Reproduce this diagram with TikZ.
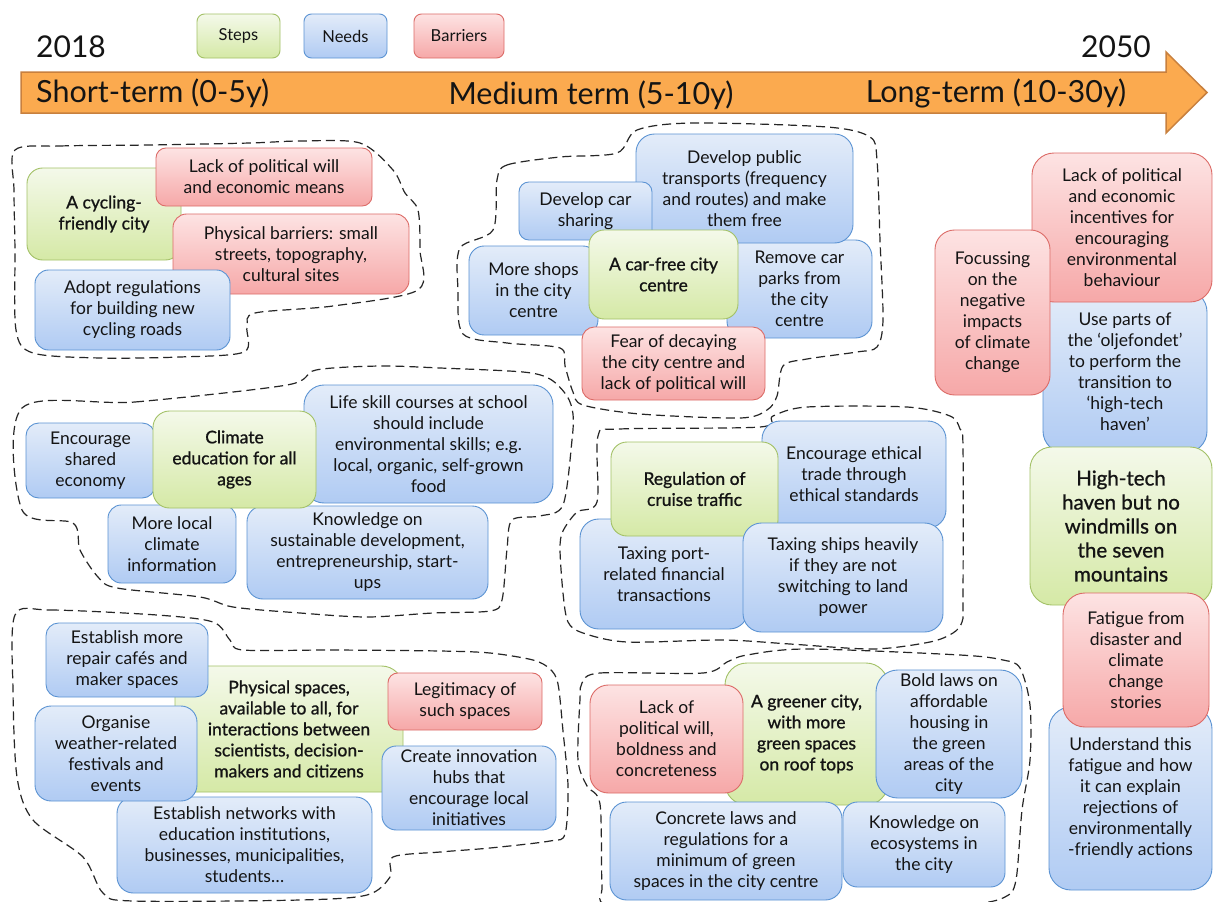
\documentclass[tikz,border=0pt]{standalone}
\usepackage{fontspec}
\setmainfont{Lato}
\newfontfamily\medfont{Lato}[FakeBold=1]
\definecolor{txt}{HTML}{141414}
\definecolor{gtop}{HTML}{F4F9EA}
\definecolor{gbot}{HTML}{D5E9A6}
\definecolor{gbord}{HTML}{A3C167}
\definecolor{btop}{HTML}{E3ECF9}
\definecolor{bbot}{HTML}{B0CBF3}
\definecolor{bbord}{HTML}{5B93D3}
\definecolor{rtop}{HTML}{FDE3E3}
\definecolor{rbot}{HTML}{F6A8A8}
\definecolor{rbord}{HTML}{DC6B67}
\definecolor{arrfill}{HTML}{FBAA4F}
\definecolor{arrbord}{HTML}{C8803E}
\tikzset{
  box/.style={draw, line width=0.9pt, align=center, inner sep=2pt, text=txt,
    font=\fontsize{17.5}{21}\selectfont},
  stepbox/.style={box, draw=gbord, top color=gtop, bottom color=gbot,
    font=\medfont\fontsize{17.5}{21}\selectfont},
  needbox/.style={box, draw=bbord, top color=btop, bottom color=bbot},
  barbox/.style={box, draw=rbord, top color=rtop, bottom color=rbot},
  grp/.style={draw=black!85, dash pattern=on 9pt off 5pt, line width=1.2pt},
  bigtxt/.style={text=txt, inner sep=0pt, font=\fontsize{30}{36}\selectfont},
  arrtxt/.style={text=txt, inner sep=0pt, font=\fontsize{30.5}{36}\selectfont},
}
\newcommand\bx[7]{%
  \pgfmathsetmacro\bw{#5-#3}%
  \pgfmathsetmacro\bh{#6-#4}%
  \pgfmathsetmacro\br{min(0.17*min(\bw,\bh),22)}%
  \node[#1, minimum width=\bw pt, minimum height=\bh pt, rounded corners=\br pt]
    (#2) at ({(#3+#5)/2},{(#4+#6)/2}) {#7};}
\begin{document}
\begin{tikzpicture}[x=1pt,y=-1pt]
\useasboundingbox (0,0) rectangle (1213,902);
\fill[white] (0,0) rectangle (1213,902);

% ---- header ----
\node[bigtxt, anchor=base west] (y2018) at (36,57) {2018};
\node[bigtxt, anchor=base east] (y2050) at (1151,57) {2050};
\bx{stepbox, font=\fontsize{16.5}{20}\selectfont}{lgs}{197}{14}{280}{58}{Steps}
\bx{needbox, font=\fontsize{16.5}{20}\selectfont}{lgn}{304}{14}{387}{58}{Needs}
\bx{barbox, font=\fontsize{16.5}{20}\selectfont}{lgb}{414}{14}{504}{58}{Barriers}
\draw[fill=arrfill, draw=arrbord, line width=1.5pt, line join=miter]
  (21,72) -- (1166,72) -- (1166,52) -- (1207,92.5) -- (1166,133) -- (1166,113) -- (21,113) -- cycle;
\node[arrtxt, anchor=west] (st) at (36,93) {Short-term (0-5y)};
\node[arrtxt] (mt) at (591,95) {Medium term (5-10y)};
\node[arrtxt] (lt) at (996,93) {Long-term (10-30y)};

% ---- group outlines ----
\draw[grp] plot[smooth cycle, tension=0.5] coordinates {(15,150) (60,146) (150,145) (250,143) (300,141) (360,143) (393,170) (405,193) (418,210) (420,250) (418,290) (333,306) (255,313) (247,327) (244,352) (180,357) (100,358) (33,353) (16,330) (15,250) (14,190)};
\draw[grp] plot[smooth cycle, tension=0.5] coordinates {(497,180) (507,165) (560,157) (617,153) (637,130) (693,123) (827,127) (870,137) (877,160) (880,240) (883,320) (877,347) (857,352) (807,359) (783,366) (777,396) (767,410) (740,418) (640,414) (583,405) (573,392) (565,366) (560,348) (507,343) (463,334) (458,290) (460,248) (493,230)};
\draw[grp] plot[smooth cycle, tension=0.5] coordinates {(22,408) (135,402) (287,385) (316,370) (380,366) (440,368) (523,372) (550,379) (567,396) (573,414) (572,440) (563,505) (540,516) (512,520) (507,549) (502,600) (490,611) (433,613) (367,617) (300,613) (233,607) (200,597) (117,588) (98,577) (80,550) (73,523) (22,510)};
\draw[grp] plot[smooth cycle, tension=0.5] coordinates {(598,436) (620,429) (760,427) (773,416) (807,407) (907,407) (950,416) (960,429) (963,447) (963,600) (962,622) (953,633) (930,642) (873,649) (790,644) (723,640) (627,642) (583,633) (568,622) (563,593) (560,549) (563,531) (577,512) (597,502)};
\draw[grp] plot[smooth cycle, tension=0.5] coordinates {(15,615) (50,610) (157,615) (213,622) (230,640) (243,650) (333,650) (440,651) (490,653) (533,660) (550,669) (558,684) (563,731) (568,786) (565,834) (550,841) (490,848) (440,852) (393,857) (390,877) (367,895) (300,900) (133,901) (103,893) (83,857) (33,820) (17,777) (13,690)};
\draw[grp] plot[smooth cycle, tension=0.5] coordinates {(582,683) (600,673) (703,673) (727,662) (747,655) (807,649) (960,655) (1003,660) (1020,668) (1030,705) (1030,760) (1022,810) (1016,880) (1005,897) (970,904) (870,904) (700,906) (607,904) (602,885) (600,804) (587,786) (578,760) (580,699)};

% ---- group 1 ----
\bx{stepbox}{cyc}{27}{168}{181}{260}{A cycling-\\friendly city}
\bx{barbox}{lackone}{156}{148}{372}{206}{Lack of political will\\and economic means}
\bx{barbox}{physbar}{173}{214}{409}{294}{Physical barriers: small\\streets, topography,\\cultural sites}
\bx{needbox}{adopt}{35}{270}{230}{350}{Adopt regulations\\for building new\\cycling roads}

% ---- group 2 ----
\bx{needbox}{park}{727}{240}{872}{338}{Remove car\\parks from\\the city\\centre}
\bx{needbox}{pub}{636}{134}{853}{243}{Develop public\\transports (frequency\\and routes) and make\\them free}
\bx{needbox}{cars}{519}{182}{652}{240}{Develop car\\sharing}
\bx{needbox}{shops}{469}{246}{598}{335}{More shops\\in the city\\centre}
\bx{stepbox}{carfree}{589}{230}{738}{319}{A car-free city\\centre}
\bx{barbox}{fear}{582}{327}{765}{400}{Fear of decaying\\the city centre and\\lack of political will}

% ---- group 3 ----
\bx{needbox}{enc}{26}{423}{155}{498}{Encourage\\shared\\economy}
\bx{needbox}{life}{304}{385}{553}{503}{Life skill courses at school\\should include\\environmental skills; e.g.\\local, organic, self-grown\\food}
\bx{needbox}{local}{108}{505}{236}{583}{More local\\climate\\information}
\bx{needbox}{know}{247}{506}{488}{599}{Knowledge on\\sustainable development,\\entrepreneurship, start-\\ups}
\bx{stepbox}{clim}{153}{411}{316}{508}{Climate\\education for all\\ages}

% ---- group 4 ----
\bx{needbox}{eth}{762}{421}{946}{528}{Encourage ethical\\trade through\\ethical standards}
\bx{needbox}{port}{580}{519}{748}{629}{Taxing port-\\related financial\\transactions}
\bx{stepbox}{cruise}{611}{442}{778}{536}{Regulation of\\cruise traffic}
\bx{needbox}{ships}{743}{523}{943}{632}{Taxing ships heavily\\if they are not\\switching to land\\power}

% ---- group 5 ----
\bx{stepbox}{phys}{175}{666}{403}{792}{Physical spaces,\\available to all, for\\interactions between\\scientists, decision-\\makers and citizens}
\bx{needbox}{netw}{117}{797}{372}{893}{Establish networks with\\education institutions,\\businesses, municipalities,\\students…}
\bx{needbox}{repair}{46}{623}{208}{697}{Establish more\\repair cafés and\\maker spaces}
\bx{needbox}{org}{35}{706}{197}{801}{Organise\\weather-related\\festivals and\\events}
\bx{barbox}{legit}{388}{673}{542}{730}{Legitimacy of\\such spaces}
\bx{needbox}{hubs}{382}{746}{556}{830}{Create innovation\\hubs that\\encourage local\\initiatives}

% ---- group 6 ----
\bx{stepbox}{greener}{725}{663}{888}{805}{A greener city,\\with more\\green spaces\\on roof tops}
\bx{barbox}{lacksix}{590}{685}{743}{793}{Lack of\\political will,\\boldness and\\concreteness}
\bx{needbox}{bold}{876}{670}{1022}{798}{Bold laws on\\affordable\\housing in\\the green\\areas of the\\city}
\bx{needbox}{concrete}{610}{802}{842}{900}{Concrete laws and\\regulations for a\\minimum of green\\spaces in the city centre}
\bx{needbox}{eco}{843}{802}{1005}{887}{Knowledge on\\ecosystems in\\the city}

% ---- right column ----
\bx{needbox}{useparts}{1043}{290}{1207}{453}{Use parts of\\the ‘oljefondet’\\to perform the\\transition to\\‘high-tech\\haven’}
\bx{barbox}{lackinc}{1032}{153}{1212}{302}{Lack of political\\and economic\\incentives for\\encouraging\\environmental\\behaviour}
\bx{barbox}{focus}{935}{230}{1050}{395}{Focussing\\on the\\negative\\impacts\\of climate\\change}
\bx{stepbox, font=\medfont\fontsize{20.5}{24}\selectfont}{hightech}{1030}{447}{1212}{605}{High-tech\\haven but no\\windmills on\\the seven\\mountains}
\bx{needbox}{understand}{1049}{707}{1212}{890}{Understand this\\fatigue and how\\it can explain\\rejections of\\environmentally\\-friendly actions}
\bx{barbox}{fatigue}{1063}{593}{1209}{727}{Fatigue from\\disaster and\\climate\\change\\stories}
\end{tikzpicture}
\end{document}
